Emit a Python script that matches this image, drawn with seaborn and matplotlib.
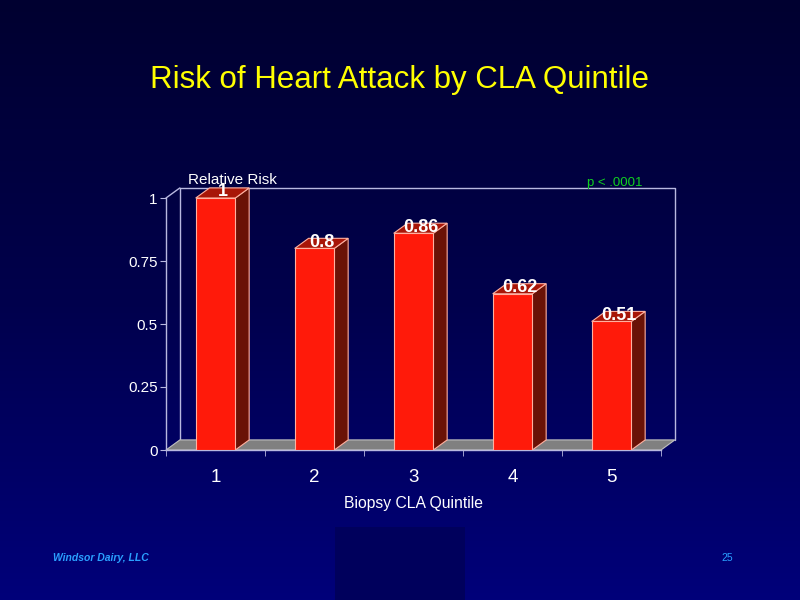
import numpy as np
import seaborn as sns
import matplotlib.pyplot as plt
from matplotlib.patches import Polygon, Rectangle
from matplotlib.colors import LinearSegmentedColormap

# data
quintiles = ['1', '2', '3', '4', '5']
risk = [1, 0.8, 0.86, 0.62, 0.51]
value_labels = ['1', '0.8', '0.86', '0.62', '0.51']
yticks = [0, 0.25, 0.5, 0.75, 1]
ytick_labels = ['0', '0.25', '0.5', '0.75', '1']

sns.set_style('white')
plt.rcParams['font.family'] = ['Liberation Sans', 'DejaVu Sans']

fig = plt.figure(figsize=(8, 6), dpi=100)

# background gradient
bg = fig.add_axes([0, 0, 1, 1], zorder=-10)
cmap = LinearSegmentedColormap.from_list('slide', ['#000030', '#00004c', '#00007a'])
bg.imshow(np.linspace(0, 1, 256).reshape(-1, 1), aspect='auto', cmap=cmap,
          extent=[0, 1, 0, 1], origin='upper')
bg.add_patch(Rectangle((335 / 800, 0), 130 / 800, 73 / 600, color='#00005c', lw=0))
bg.set_xlim(0, 1)
bg.set_ylim(0, 1)
bg.axis('off')

ax = fig.add_axes([166 / 800, 150 / 600, 495 / 800, 252 / 600])
ax.patch.set_alpha(0)

sns.barplot(x=quintiles, y=risk, color='#ff1a0a', width=0.4, saturation=1,
            edgecolor='#ffb0a0', linewidth=0.8, ax=ax, zorder=3)
bars = list(ax.patches)

dx, dy = 0.14, 0.04
edge = '#b8b8e0'

# floor
ax.add_patch(Polygon([(-0.5, 0), (4.5, 0), (4.5 + dx, dy), (-0.5 + dx, dy)],
                     closed=True, facecolor='#808080', edgecolor='#c0c0c0',
                     lw=0.8, clip_on=False, zorder=1))
# back wall
ax.plot([-0.5 + dx, -0.5 + dx, 4.5 + dx, 4.5 + dx], [dy, 1 + dy, 1 + dy, dy],
        color=edge, lw=1, clip_on=False, zorder=0.5)
ax.plot([-0.5, -0.5 + dx], [1, 1 + dy], color=edge, lw=1, clip_on=False, zorder=0.5)

# 3d faces of bars
for bar, lab in zip(bars, value_labels):
    x0 = bar.get_x()
    w = bar.get_width()
    h = bar.get_height()
    side = Polygon([(x0 + w, 0), (x0 + w + dx, dy), (x0 + w + dx, h + dy), (x0 + w, h)],
                   closed=True, facecolor='#6a1206', edgecolor='#ffb0a0', lw=0.8,
                   clip_on=False, zorder=2.5)
    top = Polygon([(x0, h), (x0 + w, h), (x0 + w + dx, h + dy), (x0 + dx, h + dy)],
                  closed=True, facecolor='#a81608', edgecolor='#ffb0a0', lw=0.8,
                  clip_on=False, zorder=2.5)
    ax.add_patch(side)
    ax.add_patch(top)
    ax.text(x0 + w / 2 + dx / 2, h + dy * 0.6, lab, color='white', fontsize=13,
            fontweight='bold', ha='center', va='center', zorder=5, clip_on=False)

ax.set_xlim(-0.5, 4.5)
ax.set_ylim(0, 1)
ax.set_yticks(yticks)
ax.set_yticklabels(ytick_labels)
ax.set_xticks(range(5))
ax.set_xticks(np.arange(-0.5, 5, 1), minor=True)
ax.tick_params(axis='x', which='major', length=0, labelsize=13.5, labelcolor='white', pad=14)
ax.tick_params(axis='x', which='minor', length=4, color=edge, direction='out', bottom=True)
ax.tick_params(axis='y', length=4, color=edge, direction='out', labelsize=11,
               labelcolor='white', left=True, pad=2)
for s in ['top', 'right']:
    ax.spines[s].set_visible(False)
for s in ['left', 'bottom']:
    ax.spines[s].set_color(edge)
    ax.spines[s].set_linewidth(1)
ax.set_xlabel('Biopsy CLA Quintile', color='white', fontsize=11.3, labelpad=7)
ax.set_ylabel('')

fig.text(0.5, 1 - 80 / 600, 'Risk of Heart Attack by CLA Quintile', color='#ffff00',
         fontsize=22.5, ha='center', va='center')
fig.text(188 / 800, 1 - 180 / 600, 'Relative Risk', color='white', fontsize=11,
         ha='left', va='center')
fig.text(587 / 800, 1 - 183 / 600, 'p < .0001', color='#10d020', fontsize=9.5,
         ha='left', va='center')
fig.text(53 / 800, 1 - 558 / 600, 'Windsor Dairy, LLC', color='#2aa0ff', fontsize=7.5,
         fontstyle='italic', fontweight='bold', ha='left', va='center',
         family=['Liberation Sans Narrow', 'Liberation Sans'])
fig.text(727 / 800, 1 - 558 / 600, '25', color='#2aa0ff', fontsize=7.5,
         ha='center', va='center', family=['Liberation Sans Narrow', 'Liberation Sans'])

fig.savefig('out.png', dpi=100)
